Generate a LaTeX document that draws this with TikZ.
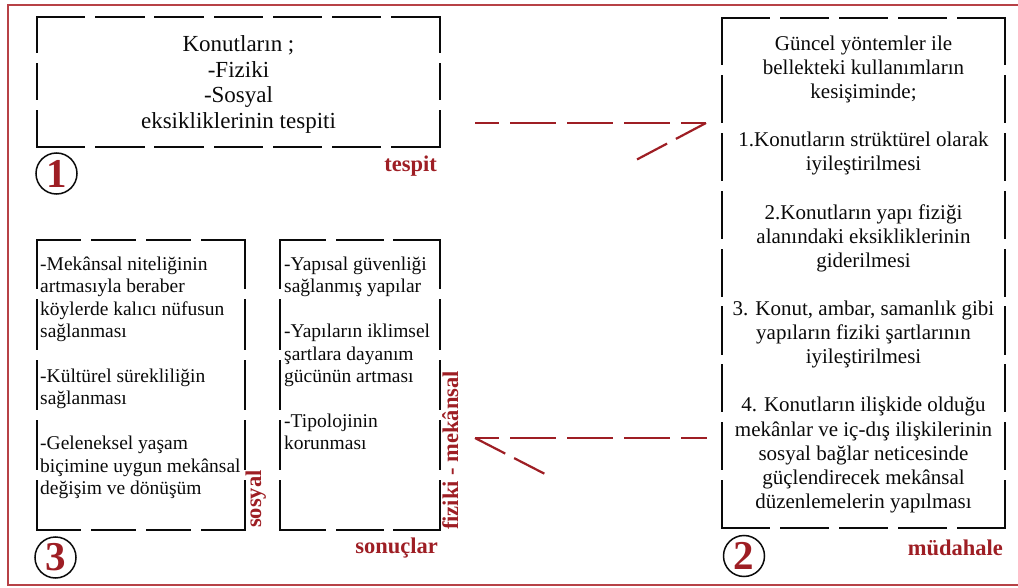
\documentclass[tikz,border=0pt]{standalone}
\usepackage{fontspec}
\setmainfont{Liberation Serif}
\usetikzlibrary{calc}
\definecolor{framered}{RGB}{183,65,70}
\definecolor{labred}{RGB}{158,30,36}
\definecolor{ink}{RGB}{10,10,10}
\tikzset{
  dbox/.style={draw=none, inner sep=0pt, rectangle},
  bedge/.style={draw=ink, line width=1.6pt, line cap=rect, dash pattern=on #1pt off 11.5pt},
  txt/.style={inner sep=0pt, text=ink},
  lab/.style={inner sep=0pt, text=labred, font=\fontsize{22.5}{24}\selectfont\bfseries},
  numc/.style={circle, draw=ink, line width=1.5pt, minimum size=41pt, inner sep=0pt, text=labred, font=\fontsize{41}{41}\selectfont\bfseries},
  shaft/.style={draw=labred, line width=2.2pt, dash pattern=on 46pt off 11pt, dash phase=22pt},
  barb/.style={draw=labred, line width=2.2pt, dash pattern=on 34pt off 10pt},
  framel/.style={draw=framered, line width=2.4pt}
}
\begin{document}
\begin{tikzpicture}[x=1pt,y=-1pt]
\useasboundingbox (0,0) rectangle (1018,588);
% frame
\draw[framel] (1018,5) -- (8,5) -- (8,585) -- (1018,585);

% boxes
\node[dbox, minimum width=403pt, minimum height=130pt] (b1) at (238.5,82) {};
\node[dbox, minimum width=283pt, minimum height=510pt] (b2) at (863.5,273) {};
\node[dbox, minimum width=208pt, minimum height=290pt] (b3a) at (141,385) {};
\node[dbox, minimum width=160pt, minimum height=290pt] (b3b) at (360,385) {};

\draw[bedge=47.7] (b1.north west) -- (b1.north east);
\draw[bedge=47.7] (b1.south west) -- (b1.south east);
\draw[bedge=35.7] (b1.north west) -- (b1.south west);
\draw[bedge=35.7] (b1.north east) -- (b1.south east);

\draw[bedge=47.4] (b2.north west) -- (b2.north east);
\draw[bedge=47.4] (b2.south west) -- (b2.south east);
\draw[bedge=46.4] (b2.north west) -- (b2.south west);
\draw[bedge=46.4] (b2.north east) -- (b2.south east);

\draw[bedge=43.4] (b3a.north west) -- (b3a.north east);
\draw[bedge=43.4] (b3a.south west) -- (b3a.south east);
\draw[bedge=48.8] (b3a.north west) -- (b3a.south west);
\draw[bedge=48.8] (b3a.north east) -- (b3a.south east);

\draw[bedge=45.7] (b3b.north west) -- (b3b.north east);
\draw[bedge=45.7] (b3b.south west) -- (b3b.south east);
\draw[bedge=48.8] (b3b.north west) -- (b3b.south west);
\draw[bedge=48.8] (b3b.north east) -- (b3b.south east);

% texts
\node[txt, anchor=north, align=center, font=\fontsize{23}{25.7}\selectfont] (t1) at (238.5,35.3)
  {Konutların ;\\-Fiziki\\-Sosyal\\eksikliklerinin tespiti};
\node[txt, anchor=north, align=center, font=\fontsize{21}{24.1}\selectfont] (t2) at (863.5,35.7)
  {Güncel yöntemler ile\\bellekteki kullanımların\\kesişiminde;\\[24.1pt]
   1.Konutların strüktürel olarak\\iyileştirilmesi\\[24.1pt]
   2.Konutların yapı fiziği\\alanındaki eksikliklerinin\\giderilmesi\\[24.1pt]
   3. Konut, ambar, samanlık gibi\\yapıların fiziki şartlarının\\iyileştirilmesi\\[24.1pt]
   4. Konutların ilişkide olduğu\\mekânlar ve iç-dış ilişkilerinin\\sosyal bağlar neticesinde\\güçlendirecek mekânsal\\düzenlemelerin yapılması};
\node[txt, anchor=north west, align=left, font=\fontsize{19.5}{22.4}\selectfont] (t3a) at (40,256.7)
  {-Mekânsal niteliğinin\\artmasıyla beraber\\köylerde kalıcı nüfusun\\sağlanması\\[22.4pt]
   -Kültürel sürekliliğin\\sağlanması\\[22.4pt]
   -Geleneksel yaşam\\biçimine uygun mekânsal\\değişim ve dönüşüm};
\node[txt, anchor=north west, align=left, font=\fontsize{19.5}{22.4}\selectfont] (t3b) at (284,256.7)
  {-Yapısal güvenliği\\sağlanmış yapılar\\[22.4pt]
   -Yapıların iklimsel\\şartlara dayanım\\gücünün artması\\[22.4pt]
   -Tipolojinin\\korunması};

% labels
\node[lab, anchor=base east] (l1) at (437,172) {tespit};
\node[lab, anchor=base east] (l2) at (1003,555) {müdahale};
\node[lab, anchor=base east] (l3) at (438,553) {sonuçlar};
\node[lab, anchor=base west, rotate=90] (l4) at (261,528) {sosyal};
\node[lab, anchor=base west, rotate=90] (l5) at (458,530) {fiziki - mekânsal};

% numbered circles
\node[numc] (c1) at (56.5,173.5) {1};
\node[numc] (c2) at (744,556) {2};
\node[numc] (c3) at (55.5,557.5) {3};

% connectors
\coordinate (a1s) at (475,123);
\coordinate (a1t) at (706,123);
\coordinate (a1b) at (636,160);
\draw[shaft] (a1s) -- (a1t);
\draw[barb] (a1t) -- (a1b);

\coordinate (a2t) at (475,438);
\coordinate (a2s) at (707,438);
\coordinate (a2b) at (545,474);
\draw[shaft] (a2t) -- (a2s);
\draw[barb] (a2t) -- (a2b);
\end{tikzpicture}
\end{document}
